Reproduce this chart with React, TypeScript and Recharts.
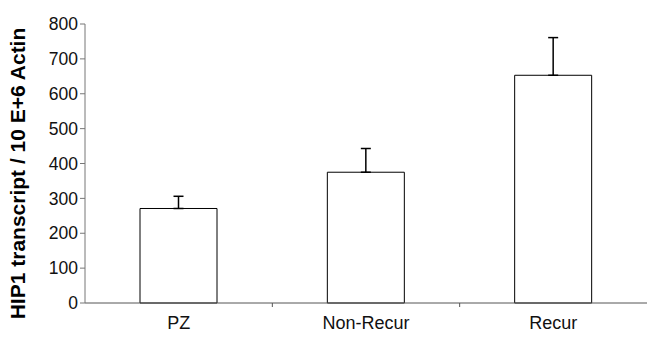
import { BarChart, Bar, XAxis, YAxis, ErrorBar } from 'recharts';

const categories = ['PZ', 'Non-Recur', 'Recur'];
const means = [271, 375, 653];
const upperErrors = [35, 68, 108];
const yTicks = [0, 100, 200, 300, 400, 500, 600, 700, 800];

const data = categories.map((name, i) => ({
  name,
  value: means[i],
  // only the upper whisker is drawn
  err: [0, upperErrors[i]],
}));

const FONT = 'Liberation Sans, Arial, sans-serif';

const CategoryTick = ({ x, y, payload, index }: any) => {
  const half = payload?.offset ?? 0;
  return (
    <g>
      <text x={x} y={y + 18} textAnchor="middle" fontFamily={FONT} fontSize={18} fill="#111">
        {payload.value}
      </text>
      {index < categories.length - 1 && (
        <line x1={x + half} x2={x + half} y1={y - 8} y2={y - 4} stroke="#555" strokeWidth={1} />
      )}
    </g>
  );
};

export default function App() {
  return (
    <div style={{ position: 'absolute', left: 0, top: 0, width: 648, height: 337, background: '#fff' }}>
      <BarChart
        width={648}
        height={337}
        data={data}
        margin={{ top: 24, right: 1, left: 0, bottom: 0 }}
      >
        <XAxis
          dataKey="name"
          height={34}
          axisLine={{ stroke: '#555', strokeWidth: 1 }}
          tickLine={false}
          tickSize={6}
          tick={<CategoryTick />}
          interval={0}
        />
        <YAxis
          width={85}
          domain={[0, 800]}
          ticks={yTicks}
          interval={0}
          axisLine={{ stroke: '#777', strokeWidth: 1 }}
          tickLine={{ stroke: '#777' }}
          tickSize={5}
          tick={{ fontFamily: FONT, fontSize: 17.5, fill: '#111' }}
          label={{
            value: 'HIP1 transcript / 10 E+6 Actin',
            angle: -90,
            position: 'insideLeft',
            offset: 18,
            dy: 10,
            style: { textAnchor: 'middle', fontFamily: FONT, fontSize: 21, fontWeight: 'bold', fill: '#000' },
          }}
        />
        <Bar
          dataKey="value"
          barSize={77}
          fill="#fff"
          stroke="#000"
          strokeWidth={1}
          isAnimationActive={false}
        >
          <ErrorBar dataKey="err" width={5} stroke="#000" strokeWidth={1.5} direction="y" />
        </Bar>
      </BarChart>
    </div>
  );
}
